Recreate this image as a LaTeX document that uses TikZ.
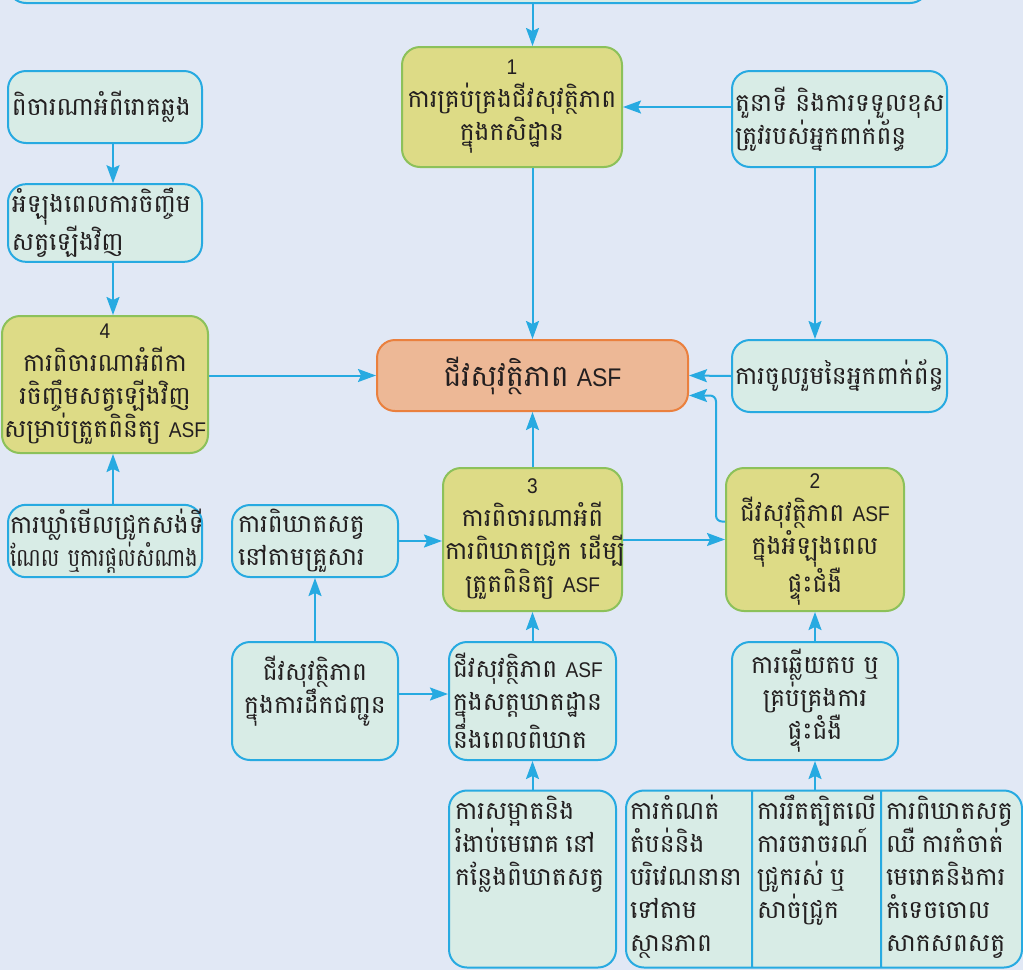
\documentclass[tikz,border=0pt]{standalone}
\usepackage{fontspec}
\setmainfont[Script=Khmer]{Battambang}
\newfontfamily\khnarrow[Script=Khmer,FakeStretch=0.83]{Battambang}
\newfontfamily\latinsf[Scale=0.85,FakeStretch=0.9]{Liberation Sans}
\usepackage{tikz}
\usetikzlibrary{positioning,calc,arrows.meta,shapes.multipart}
\definecolor{paper}{RGB}{225,232,245}
\definecolor{boxfill}{RGB}{216,236,230}
\definecolor{boxline}{RGB}{39,170,225}
\definecolor{stagefill}{RGB}{221,219,134}
\definecolor{stageline}{RGB}{140,193,90}
\definecolor{asffill}{RGB}{237,184,150}
\definecolor{asfline}{RGB}{234,128,62}
\definecolor{ink}{RGB}{35,31,32}
\lineskiplimit=-100pt
\newcommand{\boxfont}{\fontsize{25}{33}\selectfont\spaceskip=6pt\relax}
\newcommand{\bigfont}{\fontsize{30}{34}\selectfont\spaceskip=8pt\relax}
\newcommand{\lefttop}[3]{\parbox[c][#2][t]{#1}{\raggedright\rule{0pt}{25pt}#3}}
\newcommand{\midtop}[3]{\parbox[c][#2][t]{#1}{\centering\rule{0pt}{34pt}#3}}
\newcommand{\ASF}{{\latinsf ASF}}

\begin{document}
\begin{tikzpicture}[x=1pt,y=-1pt,
    box/.style={rounded corners=18pt, line width=2pt, text=ink, font=\boxfont, inner xsep=6pt, inner ysep=4pt},
    lightbox/.style={box, draw=boxline, fill=boxfill},
    stagebox/.style={box, draw=stageline, fill=stagefill, align=center},
    asfbox/.style={box, draw=asfline, fill=asffill, font=\bigfont},
    flow/.style={draw=boxline, line width=2pt, -{Stealth[length=18pt,width=13pt,inset=3pt]}}]
    \fill[paper] (0,0) rectangle (1023,970);
    \useasboundingbox (0,0) rectangle (1023,970);
    \clip (0,0) rectangle (1023,970);

    % top row
    \node[lightbox, minimum width=920pt, minimum height=60pt] (plan) at (468,-27) {};
    \node[stagebox, minimum width=220pt, minimum height=120pt, text width=212pt, inner xsep=4pt] (safety1) at (512,107) {{\latinsf 1}\\ការគ្រប់គ្រងជីវសុវត្ថិភាព\\ក្នុងកសិដ្ឋាន};
    \node[lightbox, minimum width=215pt, minimum height=96pt, text width=209pt, inner xsep=3pt, align=left] (roles) at (839.5,119) {តួនាទី~និងការទទួលខុស\\ត្រូវរបស់អ្នកពាក់ព័ន្ធ};
    \node[lightbox, minimum width=194pt, minimum height=72pt, text width=186pt, inner xsep=4pt, align=left] (disease) at (105,107) {ពិចារណាអំពីរោគឆ្លង};
    \node[lightbox, minimum width=194pt, minimum height=72pt, text width=186pt, inner xsep=4pt, align=left] (restock) at (105,223) {អំឡុងពេលការចិញ្ចឹម\\សត្វឡើងវិញ};

    % middle row
    \node[asfbox, minimum width=311pt, minimum height=71pt] (asf) at (532.5,375.5) {ជីវសុវត្ថិភាព~\ASF};
    \node[lightbox, minimum width=215pt, minimum height=72pt, text width=209pt, inner xsep=3pt, align=left] (joint) at (839.5,376) {ការចូលរួមនៃអ្នកពាក់ព័ន្ធ};
    \node[stagebox, minimum width=206pt, minimum height=137pt, text width=202pt, inner xsep=2pt] (safety4) at (105,384.5) {{\latinsf 4}\\ការពិចារណាអំពីកា\\រចិញ្ចឹមសត្វឡើងវិញ\\សម្រាប់ត្រួតពិនិត្យ~\ASF};
    \node[lightbox, minimum width=194pt, minimum height=72pt, text width=190pt, inner xsep=2pt, align=left] (sentinel) at (105,541) {ការឃ្លាំមើលជ្រូកសង់ទី\\{\khnarrow ណែល~ឬការផ្ដល់សំណាង}};
    \node[lightbox, minimum width=166pt, minimum height=72pt, text width=154pt, align=left] (homekill) at (315,541) {ការពិឃាតសត្វ\\នៅតាមគ្រួសារ};
    \node[stagebox, minimum width=179pt, minimum height=143pt, text width=175pt, inner xsep=2pt] (safety3) at (532.5,539.5) {{\latinsf 3}\\ការពិចារណាអំពី\\ការពិឃាតជ្រូក~ដើម្បី\\ត្រួតពិនិត្យ~\ASF};
    \node[stagebox, minimum width=178pt, minimum height=143pt, text width=170pt, inner xsep=4pt] (safety2) at (815,539.5) {{\latinsf 2}\\ជីវសុវត្ថិភាព~\ASF\\ក្នុងអំឡុងពេល\\ផ្ទុះជំងឺ};

    % bottom rows
    \node[lightbox] (transport) at (315,701) {\midtop{154pt}{110pt}{ជីវសុវត្ថិភាព\\ក្នុងការដឹកជញ្ជូន}};
    \node[lightbox, minimum width=167pt, minimum height=118pt, text width=159pt, inner xsep=4pt, align=left] (abattoir) at (532.5,701) {ជីវសុវត្ថិភាព~\ASF\\ក្នុងសត្តឃាតដ្ឋាន\\នឹងពេលពិឃាត};
    \node[lightbox, minimum width=166pt, minimum height=118pt, text width=158pt, inner xsep=4pt, align=center] (response) at (815,701) {ការឆ្លើយតប~ឬ\\គ្រប់គ្រងការ\\ផ្ទុះជំងឺ};
    \node[lightbox] (cleaning) at (532.5,879) {\lefttop{155pt}{169pt}{ការសម្អាតនិង\\រំងាប់មេរោគ~នៅ\\កន្លែងពិឃាតសត្វ}};
    \node[lightbox, rectangle split, rectangle split horizontal, rectangle split parts=3, inner xsep=4pt] (measures) at (824,879)
      {\lefttop{117pt}{169pt}{ការកំណត់\\តំបន់និង\\បរិវេណនានា\\ទៅតាម\\ស្ថានភាព}%
       \nodepart{two}\lefttop{119pt}{169pt}{ការរឹតត្បិតលើ\\ការចរាចរណ៍\\ជ្រូករស់~ឬ\\សាច់ជ្រូក}%
       \nodepart{three}\lefttop{132pt}{169pt}{ការពិឃាតសត្វ\\ឈឺ~ការកំចាត់\\មេរោគនិងការ\\កំទេចចោល\\សាកសពសត្វ}};

    % connectors
    \draw[flow] (plan.south -| asf.north) -- (safety1.north -| asf.north);
    \draw[flow] (safety1.south -| asf.north) -- (asf.north);
    \draw[flow] (roles.west |- safety1.east) -- (safety1.east);
    \draw[flow] (roles.south -| safety2.north) -- (joint.north -| safety2.north);
    \draw[flow] (joint.west) -- (asf.east);
    \draw[flow] ([xshift=8pt]disease.south) -- ([xshift=8pt]restock.north);
    \draw[flow] ([xshift=8pt]restock.south) -- ([xshift=8pt]safety4.north);
    \draw[flow] (safety4.east |- asf.west) -- (asf.west);
    \draw[flow] ([xshift=8pt]sentinel.north) -- ([xshift=8pt]safety4.south);
    \draw[flow] (homekill.east) -- (homekill.east -| safety3.west);
    \draw[flow] (safety3.north) -- (asf.south);
    \draw[flow] (safety3.east) -- (safety2.west);
    \draw[flow, rounded corners=6pt] ([yshift=18pt]safety2.west) -- ++(-9,0) |- ([yshift=-20pt]asf.east);
    \draw[flow] (transport.north) -- (homekill.south);
    \draw[flow] ([yshift=7pt]transport.east) -- ([yshift=7pt]transport.east -| abattoir.west);
    \draw[flow] (abattoir.north) -- (safety3.south);
    \draw[flow] (cleaning.north) -- (abattoir.south);
    \draw[flow] (response.north) -- (safety2.south);
    \draw[flow] (measures.north -| response.south) -- (response.south);
\end{tikzpicture}
\end{document}
